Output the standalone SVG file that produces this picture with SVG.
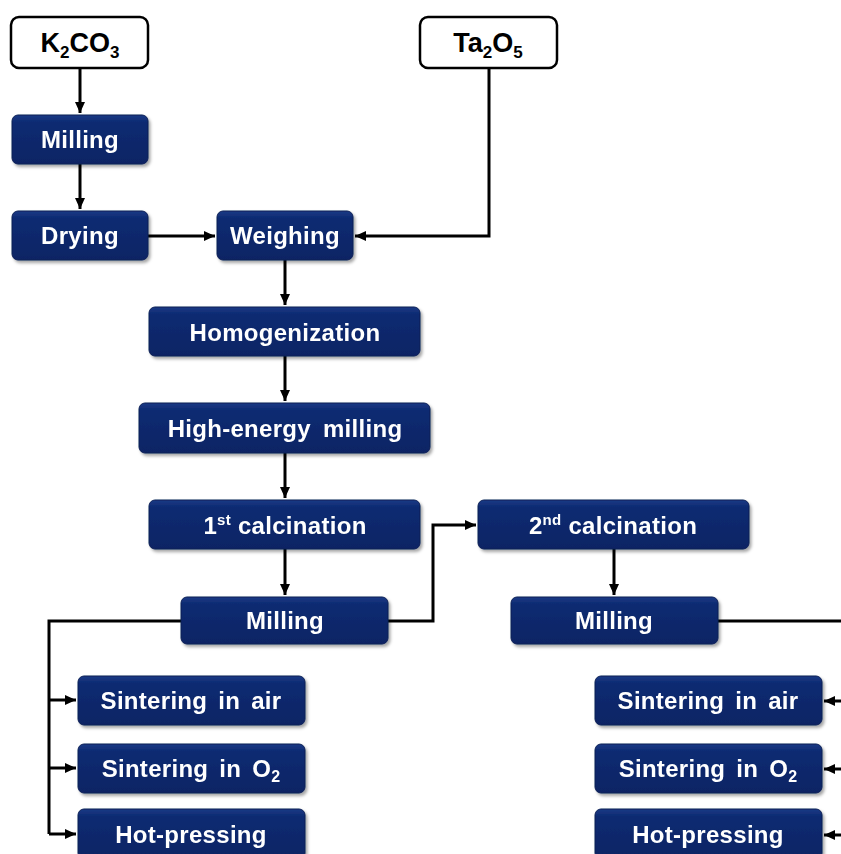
<svg xmlns="http://www.w3.org/2000/svg" width="841" height="854" viewBox="0 0 841 854">
<defs>
<style>
.nb{fill:url(#g);stroke:#0a1f55;stroke-width:1}
.wb{fill:#fff;stroke:#000;stroke-width:2.5}
.t{font-family:"Liberation Sans",Arial,sans-serif;font-weight:bold;font-size:24px;letter-spacing:0.3px;fill:#fff;text-anchor:middle}
.k{font-family:"Liberation Sans",Arial,sans-serif;font-weight:bold;font-size:27px;fill:#000;text-anchor:middle}
.c{fill:none;stroke:#000;stroke-width:3}
</style>
<linearGradient id="g" x1="0" y1="0" x2="0" y2="1">
<stop offset="0" stop-color="#1c3a86"/>
<stop offset="0.15" stop-color="#0d2b72"/>
<stop offset="1" stop-color="#0a2464"/>
</linearGradient>
<filter id="sh" x="-10%" y="-20%" width="130%" height="150%">
<feDropShadow dx="2" dy="2.5" stdDeviation="1.5" flood-color="#000" flood-opacity="0.35"/>
</filter>
<marker id="a" markerUnits="userSpaceOnUse" markerWidth="12" markerHeight="12" refX="11" refY="6" orient="auto">
<path d="M0,1 L11,6 L0,11 Z" fill="#000"/>
</marker>
</defs>
<g id="connectors">
<path class="c" d="M80,68 V113" marker-end="url(#a)"/>
<path class="c" d="M80,164 V209" marker-end="url(#a)"/>
<path class="c" d="M148,236 H215" marker-end="url(#a)"/>
<path class="c" d="M489,68 V236 H355" marker-end="url(#a)"/>
<path class="c" d="M285,260 V305" marker-end="url(#a)"/>
<path class="c" d="M285,356 V401" marker-end="url(#a)"/>
<path class="c" d="M285,453 V498" marker-end="url(#a)"/>
<path class="c" d="M285,549 V595" marker-end="url(#a)"/>
<path class="c" d="M388,621 H433 V525 H476" marker-end="url(#a)"/>
<path class="c" d="M614,549 V595" marker-end="url(#a)"/>
<path class="c" d="M181,621 H49 V834"/>
<path class="c" d="M49,700 H76" marker-end="url(#a)"/>
<path class="c" d="M49,768 H76" marker-end="url(#a)"/>
<path class="c" d="M49,834 H76" marker-end="url(#a)"/>
<path class="c" d="M718,621 H845"/>
<path class="c" d="M845,701 H824" marker-end="url(#a)"/>
<path class="c" d="M845,769 H824" marker-end="url(#a)"/>
<path class="c" d="M845,835 H824" marker-end="url(#a)"/>
</g>
<g id="k2co3"><rect class="wb" x="11" y="17" width="137" height="51" rx="8"/><text class="k" x="80" y="52">K<tspan font-size="17" dy="6">2</tspan><tspan dy="-6">CO</tspan><tspan font-size="17" dy="6">3</tspan></text></g>
<g id="ta2o5"><rect class="wb" x="420" y="17" width="137" height="51" rx="8"/><text class="k" x="488" y="52">Ta<tspan font-size="17" dy="6">2</tspan><tspan dy="-6">O</tspan><tspan font-size="17" dy="6">5</tspan></text></g>
<g id="milling1" filter="url(#sh)"><rect class="nb" x="12" y="115" width="136" height="49" rx="6"/><text class="t" x="80" y="148">Milling</text></g>
<g id="drying" filter="url(#sh)"><rect class="nb" x="12" y="211" width="136" height="49" rx="6"/><text class="t" x="80" y="244">Drying</text></g>
<g id="weighing" filter="url(#sh)"><rect class="nb" x="217" y="211" width="136" height="49" rx="6"/><text class="t" x="285" y="244">Weighing</text></g>
<g id="homogenization" filter="url(#sh)"><rect class="nb" x="149" y="307" width="271" height="49" rx="6"/><text class="t" x="285" y="341">Homogenization</text></g>
<g id="hem" filter="url(#sh)"><rect class="nb" x="139" y="403" width="291" height="50" rx="6"/><text class="t" x="285" y="437" word-spacing="5">High-energy milling</text></g>
<g id="calc1" filter="url(#sh)"><rect class="nb" x="149" y="500" width="271" height="49" rx="6"/><text class="t" x="285" y="534">1<tspan font-size="15" dy="-9">st</tspan><tspan dy="9"> calcination</tspan></text></g>
<g id="milling2" filter="url(#sh)"><rect class="nb" x="181" y="597" width="207" height="47" rx="6"/><text class="t" x="285" y="629">Milling</text></g>
<g id="calc2" filter="url(#sh)"><rect class="nb" x="478" y="500" width="271" height="49" rx="6"/><text class="t" x="613" y="534">2<tspan font-size="15" dy="-9">nd</tspan><tspan dy="9"> calcination</tspan></text></g>
<g id="milling3" filter="url(#sh)"><rect class="nb" x="511" y="597" width="207" height="47" rx="6"/><text class="t" x="614" y="629">Milling</text></g>
<g id="sair1" filter="url(#sh)"><rect class="nb" x="78" y="676" width="227" height="49" rx="6"/><text class="t" x="191" y="709" word-spacing="4">Sintering in air</text></g>
<g id="so21" filter="url(#sh)"><rect class="nb" x="78" y="744" width="227" height="49" rx="6"/><text class="t" x="191" y="777" word-spacing="4">Sintering in O<tspan font-size="16" dy="5">2</tspan></text></g>
<g id="hp1" filter="url(#sh)"><rect class="nb" x="78" y="809" width="227" height="50" rx="6"/><text class="t" x="191" y="843">Hot-pressing</text></g>
<g id="sair2" filter="url(#sh)"><rect class="nb" x="595" y="676" width="227" height="49" rx="6"/><text class="t" x="708" y="709" word-spacing="4">Sintering in air</text></g>
<g id="so22" filter="url(#sh)"><rect class="nb" x="595" y="744" width="227" height="49" rx="6"/><text class="t" x="708" y="777" word-spacing="4">Sintering in O<tspan font-size="16" dy="5">2</tspan></text></g>
<g id="hp2" filter="url(#sh)"><rect class="nb" x="595" y="809" width="227" height="50" rx="6"/><text class="t" x="708" y="843">Hot-pressing</text></g>
</svg>
